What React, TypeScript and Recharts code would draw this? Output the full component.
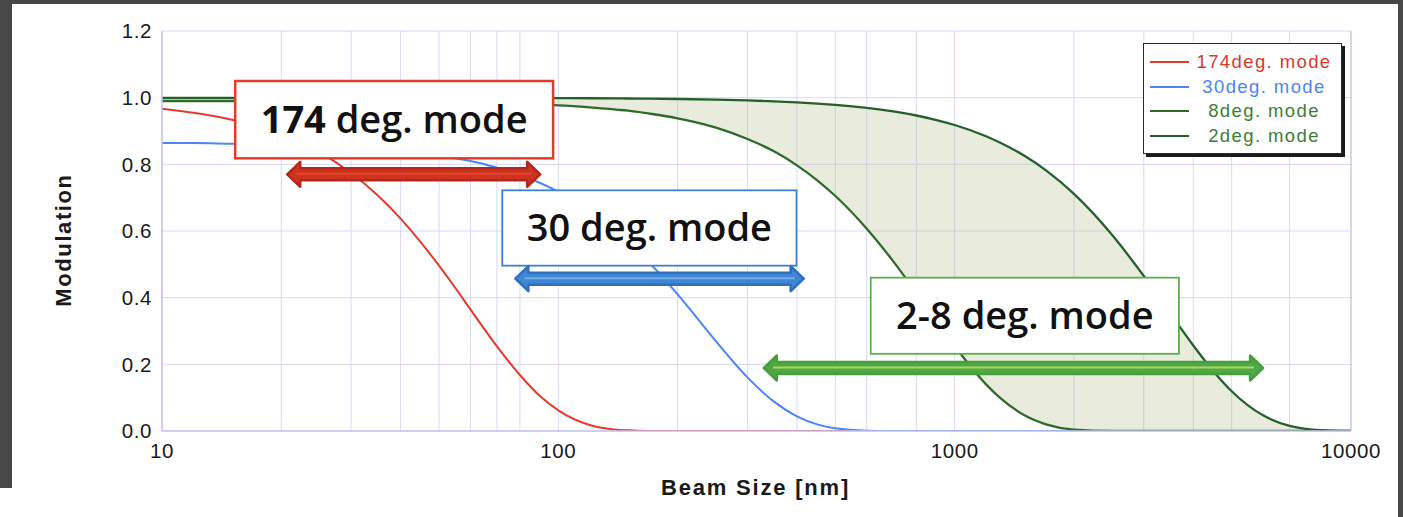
import React from 'react';
import {
  ComposedChart,
  Line,
  Area,
  XAxis,
  YAxis,
  CartesianGrid,
  ReferenceArea,
  ReferenceLine,
} from 'recharts';

// ---- data ----
const beamSizes = [10, 12, 15, 20, 25, 30, 35, 40, 45, 50, 55, 60, 70, 80, 90, 100, 120, 140, 150, 170, 200, 250, 300, 350, 400, 450, 500, 600, 700, 800, 900, 1000, 1200, 1300, 1500, 1700, 2000, 2500, 3000, 3500, 4000, 4500, 5000, 6000, 7000, 8000, 9000, 10000];

const mod174 = [0.967, 0.955, 0.934, 0.89, 0.836, 0.774, 0.707, 0.637, 0.566, 0.496, 0.429, 0.365, 0.254, 0.168, 0.104, 0.062, 0.018, 0.004, 0.002, 0.0003, 0, 0, 0, 0, 0, 0, 0, 0, 0, 0, 0, 0, 0, 0, 0, 0, 0, 0, 0, 0, 0, 0, 0, 0, 0, 0, 0, 0];

const mod30 = [0.864, 0.864, 0.862, 0.86, 0.856, 0.852, 0.846, 0.841, 0.834, 0.827, 0.818, 0.81, 0.79, 0.768, 0.744, 0.718, 0.662, 0.6, 0.568, 0.504, 0.41, 0.269, 0.161, 0.088, 0.044, 0.02, 0.008, 0.001, 0.0001, 0, 0, 0, 0, 0, 0, 0, 0, 0, 0, 0, 0, 0, 0, 0, 0, 0, 0, 0];

const mod8 = [0.99, 0.99, 0.99, 0.99, 0.989, 0.989, 0.989, 0.988, 0.988, 0.987, 0.986, 0.985, 0.984, 0.982, 0.979, 0.977, 0.971, 0.964, 0.961, 0.952, 0.938, 0.91, 0.876, 0.839, 0.797, 0.752, 0.705, 0.607, 0.509, 0.415, 0.33, 0.255, 0.14, 0.1, 0.047, 0.02, 0.004, 0.0002, 0, 0, 0, 0, 0, 0, 0, 0, 0, 0];

const mod2 = [0.9994, 0.9994, 0.9994, 0.9994, 0.9993, 0.9993, 0.9993, 0.9993, 0.9992, 0.9992, 0.9991, 0.9991, 0.999, 0.9988, 0.9987, 0.9985, 0.9982, 0.9977, 0.9975, 0.9969, 0.996, 0.9941, 0.9918, 0.989, 0.9859, 0.9823, 0.9784, 0.9693, 0.9586, 0.9465, 0.9329, 0.918, 0.8843, 0.8657, 0.8255, 0.7818, 0.7113, 0.5872, 0.465, 0.3528, 0.2566, 0.1788, 0.1194, 0.0469, 0.0155, 0.0043, 0.001, 0.0002];

const xTicks = [10, 100, 1000, 10000];
const yTicks = [0, 0.2, 0.4, 0.6, 0.8, 1.0, 1.2];
const xGridValues = [10, 20, 30, 40, 50, 60, 70, 80, 90, 100, 200, 300, 400, 500, 600, 700, 800, 900, 1000, 2000, 3000, 4000, 5000, 6000, 7000, 8000, 9000, 10000];
const yMinorTicks = [0, 0.05, 0.1, 0.15, 0.2, 0.25, 0.3, 0.35, 0.4, 0.45, 0.5, 0.55, 0.6, 0.65, 0.7, 0.75, 0.8, 0.85, 0.9, 0.95, 1.0, 1.05, 1.1, 1.15, 1.2];

const seriesInfo = [
  { key: 'm174', name: '174deg. mode', color: '#e23b2e', text: '#d9382d', width: 2 },
  { key: 'm30', name: '30deg. mode', color: '#4a86f5', text: '#4a86f0', width: 2 },
  { key: 'm8', name: '8deg. mode', color: '#2e6b2a', text: '#3d7d38', width: 2.3 },
  { key: 'm2', name: '2deg. mode', color: '#24602a', text: '#3d7d38', width: 2.3 },
];

const annotationBoxes = [
  { id: 'b174', lead: '174', rest: ' deg. mode', x1: 15.3, x2: 97, y1: 0.818, y2: 1.05, stroke: '#e8392b', strokeWidth: 2.5, leadWeight: 700 },
  { id: 'b30', lead: '30', rest: ' deg. mode', x1: 72.2, x2: 399, y1: 0.496, y2: 0.722, stroke: '#3f7fcf', strokeWidth: 1.8, leadWeight: 600 },
  { id: 'b28', lead: '2-8', rest: ' deg. mode', x1: 614, x2: 3680, y1: 0.2316, y2: 0.46, stroke: '#5aae4e', strokeWidth: 1.8, leadWeight: 600 },
];

const annotationArrows = [
  { id: 'a174', x1: 20.7, x2: 90, y: 0.77, fill: '#cf3320', edge: '#b0281a', shine: '#e4472f' },
  { id: 'a30', x1: 77.9, x2: 416, y: 0.457, fill: '#3f86d4', edge: '#2f70bd', shine: '#72ace8' },
  { id: 'a28', x1: 330, x2: 6000, y: 0.189, fill: '#4fa845', edge: '#45a03c', shine: '#acd65c' },
];

const chartData = beamSizes.map((s, i) => ({
  size: s,
  m174: mod174[i],
  m30: mod30[i],
  m8: mod8[i],
  m2: mod2[i],
  band: [mod8[i], mod2[i]],
}));

const GRID = '#d8d8f6';
const AXIS = '#c4c4ee';
const FONT = '"Liberation Sans", Arial, Helvetica, sans-serif';

const makeBoxShape = (box: any) => (p: any) => {
  const { x, y, width, height } = p;
  return (
    <g>
      <rect x={x} y={y} width={width} height={height} fill="#ffffff" stroke={box.stroke} strokeWidth={box.strokeWidth} />
      <text
        x={x + width / 2}
        y={y + height / 2 + 13}
        textAnchor="middle"
        fontFamily='"Open Sans", sans-serif'
        fontSize={38}
        fill="#111"
      >
        <tspan fontWeight={box.leadWeight}>{box.lead}</tspan>
        <tspan fontWeight={600}>{box.rest}</tspan>
      </text>
    </g>
  );
};

const makeArrowShape = (a: any) => (p: any) => {
  const x1 = Math.min(p.x1, p.x2);
  const x2 = Math.max(p.x1, p.x2);
  const y = p.y1;
  const sh = 6;
  const hh = 12.5;
  const hl = 13;
  const pts = [
    [x1, y], [x1 + hl, y - hh], [x1 + hl, y - sh], [x2 - hl, y - sh], [x2 - hl, y - hh],
    [x2, y], [x2 - hl, y + hh], [x2 - hl, y + sh], [x1 + hl, y + sh], [x1 + hl, y + hh],
  ].map((q) => q.join(',')).join(' ');
  return (
    <g>
      <polygon points={pts} fill={a.fill} stroke={a.edge} strokeWidth={2.5} strokeLinejoin="round" />
      <line x1={x1 + 9} x2={x2 - 9} y1={y - 0.5} y2={y - 0.5} stroke={a.shine} strokeWidth={2} />
    </g>
  );
};

const YLabel = (props: any) => {
  const vb = props.viewBox || { x: 102, y: 31, width: 60, height: 400 };
  const cx = vb.x - 39;
  const cy = vb.y + vb.height / 2 + 9;
  return (
    <text
      x={cx}
      y={cy}
      transform={`rotate(-90, ${cx}, ${cy})`}
      textAnchor="middle"
      dominantBaseline="central"
      fontFamily={FONT}
      fontWeight={700}
      fontSize={22}
      letterSpacing={1.6}
      fill="#1a1a1a"
    >
      Modulation
    </text>
  );
};

const XLabel = (props: any) => {
  const vb = props.viewBox || { x: 162, y: 431, width: 1189, height: 30 };
  return (
    <text
      x={vb.x + vb.width / 2 - 1}
      y={vb.y + 64}
      textAnchor="middle"
      fontFamily={FONT}
      fontWeight={700}
      fontSize={22}
      letterSpacing={1.8}
      fill="#1a1a1a"
    >
      Beam Size [nm]
    </text>
  );
};

const tickStyle = { fontFamily: FONT, fontSize: 20.5, fill: '#1a1a1a', letterSpacing: 0.6 };

export default function App() {
  return (
    <div
      style={{
        position: 'fixed',
        left: 0,
        top: 0,
        width: 1403,
        height: 517,
        background: '#ffffff',
        overflow: 'hidden',
        fontFamily: FONT,
      }}
    >
      <div style={{ position: 'absolute', left: 0, top: 0, width: 12, height: 488, background: '#474747' }} />
      <div style={{ position: 'absolute', left: 0, top: 0, width: 1403, height: 4, background: '#474747' }} />
      <div style={{ position: 'absolute', left: 1398, top: 0, width: 5, height: 517, background: '#474747' }} />

      <div style={{ position: 'absolute', left: 0, top: 0 }}>
        <ComposedChart
          width={1403}
          height={517}
          data={chartData}
          margin={{ top: 31, right: 52, bottom: 56, left: 102 }}
        >
          <CartesianGrid
            stroke={GRID}
            strokeWidth={1}
            verticalValues={xGridValues}
            horizontalValues={yTicks}
          />
          <XAxis
            dataKey="size"
            type="number"
            scale="log"
            domain={[10, 10000]}
            ticks={xTicks}
            allowDataOverflow
            height={30}
            tickLine={false}
            tickSize={6}
            tickMargin={6}
            axisLine={{ stroke: AXIS, strokeWidth: 1.5 }}
            tick={tickStyle}
            label={<XLabel />}
          />
          <YAxis
            type="number"
            domain={[0, 1.2]}
            ticks={yTicks}
            allowDataOverflow
            width={60}
            tickLine={false}
            tickSize={6}
            tickMargin={4}
            tickFormatter={(v: number) => v.toFixed(1)}
            axisLine={{ stroke: AXIS, strokeWidth: 1.5 }}
            tick={tickStyle}
            label={<YLabel />}
          />
          <YAxis
            yAxisId="minorLeft"
            orientation="left"
            mirror
            type="number"
            domain={[0, 1.2]}
            ticks={yMinorTicks}
            allowDataOverflow
            tick={false}
            tickSize={4}
            tickLine={{ stroke: AXIS }}
            axisLine={false}
          />
          <YAxis
            yAxisId="minorRight"
            orientation="right"
            mirror
            type="number"
            domain={[0, 1.2]}
            ticks={yMinorTicks}
            allowDataOverflow
            tick={false}
            tickSize={4}
            tickLine={{ stroke: AXIS }}
            axisLine={{ stroke: AXIS, strokeWidth: 1.2 }}
          />

          <Area
            dataKey="band"
            type="monotone"
            stroke="none"
            fill="#a7b377"
            fillOpacity={0.25}
            isAnimationActive={false}
            legendType="none"
          />
          {seriesInfo.map((s) => (
            <Line
              key={s.key}
              dataKey={s.key}
              name={s.name}
              type="monotone"
              stroke={s.color}
              strokeWidth={s.width}
              dot={false}
              activeDot={false}
              isAnimationActive={false}
            />
          ))}

          {annotationBoxes.map((b) => (
            <ReferenceArea
              key={b.id}
              x1={b.x1}
              x2={b.x2}
              y1={b.y1}
              y2={b.y2}
              ifOverflow="visible"
              zIndex={1500}
              shape={makeBoxShape(b)}
            />
          ))}
          {annotationArrows.map((a) => (
            <ReferenceLine
              key={a.id}
              segment={[{ x: a.x1, y: a.y }, { x: a.x2, y: a.y }]}
              ifOverflow="visible"
              zIndex={1600}
              shape={makeArrowShape(a)}
            />
          ))}
        </ComposedChart>
      </div>

      <div
        style={{
          position: 'absolute',
          left: 1143,
          top: 43,
          width: 199,
          height: 111,
          boxSizing: 'border-box',
          border: '1.5px solid #2a2a2a',
          boxShadow: '3px 3px 0 #1a1a1a',
          background: '#ffffff',
        }}
      >
        {seriesInfo.map((s, i) => (
          <div
            key={s.key}
            style={{ position: 'absolute', left: 0, top: 6 + i * 24.5, width: 196, height: 24 }}
          >
            <div style={{ position: 'absolute', left: 5.5, top: 11, width: 39, height: 2, background: s.color }} />
            <div
              style={{
                position: 'absolute',
                left: 45,
                width: 150,
                top: 0,
                height: 24,
                lineHeight: '24px',
                textAlign: 'center',
                fontFamily: FONT,
                fontSize: 18.5,
                letterSpacing: 1.4,
                color: s.text,
                whiteSpace: 'nowrap',
              }}
            >
              {s.name}
            </div>
          </div>
        ))}
      </div>
    </div>
  );
}
